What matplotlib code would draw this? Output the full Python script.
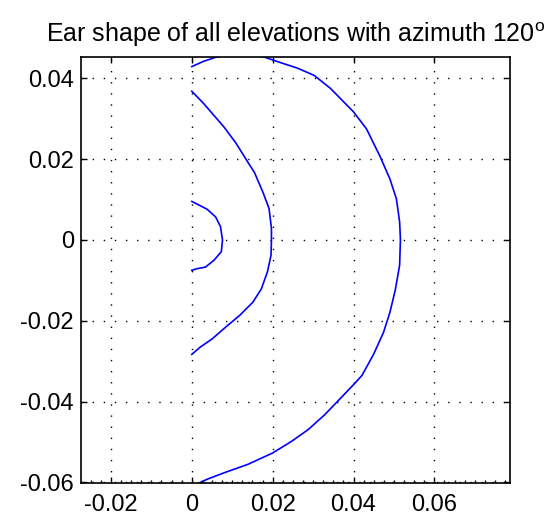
import matplotlib
matplotlib.use("Agg")
import matplotlib.pyplot as plt

# curves (x, y in metres); outer one runs past the axes and is clipped
outer_x = [0.0, 0.0029, 0.0059, 0.012, 0.0181, 0.0222, 0.0262, 0.0303, 0.0343, 0.040,
           0.0432, 0.0465, 0.049, 0.0506, 0.0514, 0.0516, 0.0514, 0.0503, 0.049, 0.0474,
           0.045, 0.0421, 0.040, 0.0356, 0.0328, 0.0288, 0.0247, 0.020, 0.0139, 0.008,
           0.0038, 0.0021, 0.0]
outer_y = [0.0429, 0.0442, 0.0452, 0.0464, 0.0452, 0.0438, 0.0425, 0.0407, 0.0375, 0.0317,
           0.0275, 0.0208, 0.0151, 0.0102, 0.0045, 0.0, -0.00625, -0.0125, -0.0179, -0.0229,
           -0.0282, -0.0335, -0.0358, -0.0404, -0.0433, -0.0469, -0.0498, -0.0527, -0.0555,
           -0.0576, -0.0592, -0.0600, -0.0608]

mid_x = [0.0, 0.0029, 0.0055, 0.008, 0.0109, 0.0139, 0.0155, 0.0176, 0.0191, 0.0197,
         0.0197, 0.0196, 0.0187, 0.0172, 0.0151, 0.0118, 0.0088, 0.005, 0.0021, 0.0]
mid_y = [0.0368, 0.0338, 0.0308, 0.0279, 0.024, 0.0192, 0.0167, 0.0118, 0.0078, 0.0029,
         0.0, -0.00375, -0.0079, -0.0121, -0.0154, -0.0187, -0.0212, -0.0245, -0.0265, -0.0283]

inner_x = [0.0, 0.0038, 0.0059, 0.0071, 0.0076, 0.0073, 0.0055, 0.0034, 0.0013, 0.0]
inner_y = [0.00955, 0.0076, 0.0057, 0.0033, 0.0, -0.0029, -0.005, -0.0067, -0.0071, -0.0075]

xticks = [-0.02, 0, 0.02, 0.04, 0.06]
xlabels = ['-0.02', '0', '0.02', '0.04', '0.06']
yticks = [-0.06, -0.04, -0.02, 0, 0.02, 0.04]
ylabels = ['-0.06', '-0.04', '-0.02', '0', '0.02', '0.04']

plt.rcParams['font.family'] = ['Liberation Sans', 'DejaVu Sans']

fig = plt.figure(figsize=(5.53, 5.28), dpi=100)
ax = fig.add_axes([81 / 553, 1 - 483.3 / 528, 429 / 553, 426 / 528])

for xs, ys in [(outer_x, outer_y), (mid_x, mid_y), (inner_x, inner_y)]:
    ax.plot(xs, ys, color='#0000ff', lw=1.2)

ax.set_xlim(-0.0274, 0.0787)
ax.set_ylim(-0.0602, 0.0452)
ax.set_xticks(xticks)
ax.set_xticklabels(xlabels)
ax.set_yticks(yticks)
ax.set_yticklabels(ylabels)
ax.set_xticks([v / 400 for v in range(-10, 32)], minor=True)
ax.tick_params(which='major', direction='in', length=4, width=1, labelsize=17,
               top=True, right=True)
ax.tick_params(axis='x', which='major', pad=8)
ax.tick_params(axis='y', which='major', pad=5)
ax.tick_params(axis='x', which='minor', direction='in', length=2.5, width=1, top=False)
ax.grid(True, color='black', linestyle=(0, (1, 7)), lw=1.0)
for s in ax.spines.values():
    s.set_linewidth(1.2)

ax.set_title('Ear shape of all elevations with azimuth 120$^\\mathregular{o}$',
             fontsize=18, pad=11)

fig.savefig('out.png', dpi=100)
